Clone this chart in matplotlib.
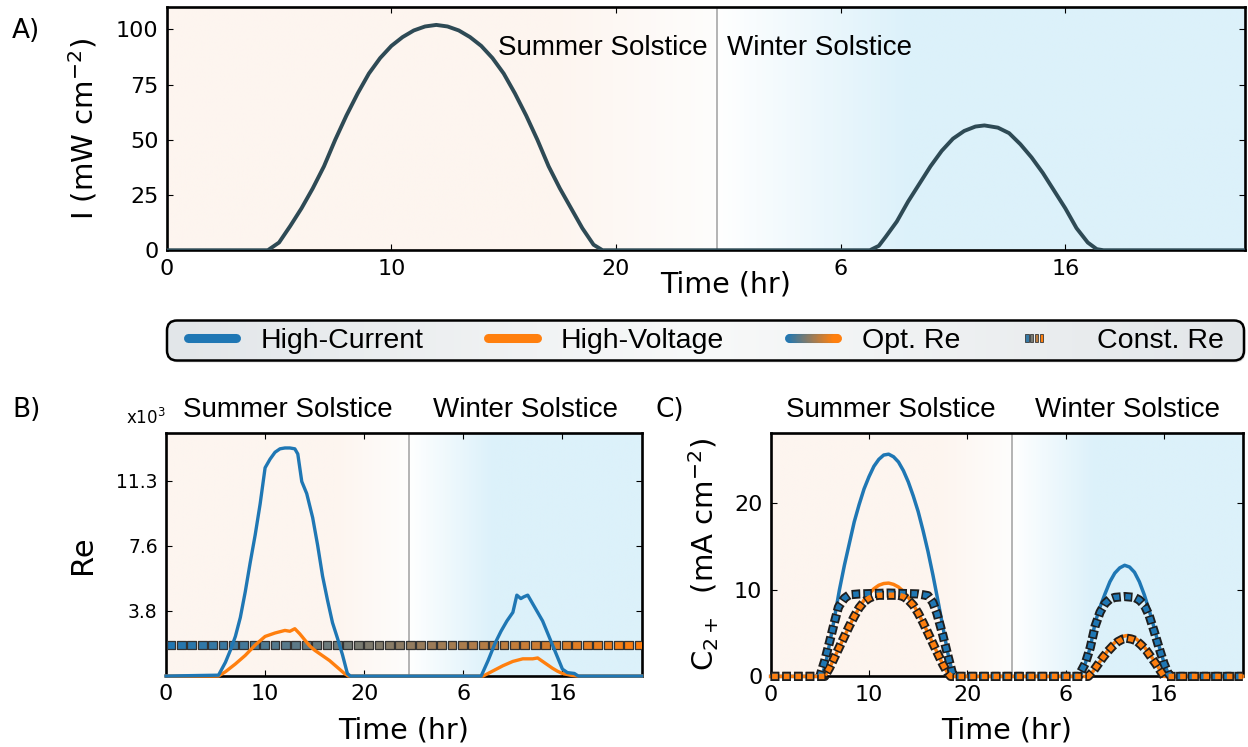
import numpy as np
import matplotlib
matplotlib.use("Agg")
import matplotlib.pyplot as plt
from matplotlib.collections import LineCollection
from matplotlib.colors import LinearSegmentedColormap
from matplotlib.legend_handler import HandlerBase
from matplotlib.lines import Line2D
from matplotlib.patches import FancyBboxPatch, Rectangle
from matplotlib.transforms import blended_transform_factory

plt.rcParams["font.family"] = "DejaVu Sans"
plt.rcParams["mathtext.default"] = "regular"
plt.rcParams["lines.scale_dashes"] = False

BLUE = "#1f77b4"
ORANGE = "#ff7f0e"
SUN = "#2e4a55"
PEACH = "#fdf5ef"
SKY = "#dcf1fa"
LABEL_FONT = "Liberation Sans"

# time axis: summer solstice day 0-24 h, winter solstice day 24-48 h
t_max = 48
day_split = 24.5
hour_ticks = [0, 10, 20, 30, 40]
hour_labels = ["0", "10", "20", "6", "16"]

# A) irradiance, mW cm-2
irr_t = [0, 4.5, 5, 5.5, 6, 6.5, 7, 7.5, 8, 8.5, 9, 9.5, 10, 10.5, 11, 11.5, 12,
         12.5, 13, 13.5, 14, 14.5, 15, 15.5, 16, 16.5, 17, 17.5, 18, 18.5, 19, 19.4,
         31.3, 31.7, 32, 32.5, 33, 33.5, 34, 34.5, 35, 35.5, 36, 36.4, 37, 37.5, 38,
         38.5, 39, 39.5, 40, 40.5, 41, 41.4, 41.7, 48]
irr_v = [0, 0, 3.5, 11, 19, 28, 38, 50, 61, 71, 80, 87, 92.5, 96.5, 99.5, 101.3, 102,
         101.3, 99.5, 96.5, 92.5, 87, 80, 71, 61, 50, 38, 28, 19, 10, 2.5, 0,
         0, 2, 6, 13, 22, 30, 38, 45, 50.5, 54, 56, 56.5, 55.5, 53, 48,
         42, 35, 27, 19, 10, 3.5, 0.5, 0, 0]

# B) Reynolds number (x10^3)
re_hc_t = [0, 5.3, 6, 6.5, 7, 7.5, 8, 8.5, 9, 9.5, 10, 10.5, 11, 11.5, 12, 12.5, 13,
           13.3, 13.7, 14.2, 14.8, 15.3, 15.8, 16.3, 16.8, 17.3, 17.8, 18.3, 18.6,
           31.8, 32.5, 33.2, 33.8, 34.4, 35.0, 35.4, 35.8, 36.1, 36.5, 37, 37.5, 38,
           38.5, 39, 39.5, 40, 40.5, 41.2, 41.6, 48]
re_hc_v = [0, 0.05, 0.8, 1.5, 2.3, 3.4, 4.9, 6.6, 8.2, 10.0, 12.1, 12.6, 13.0, 13.2,
           13.25, 13.25, 13.2, 12.9, 11.3, 10.6, 9.2, 7.6, 5.8, 4.4, 3.1, 2.2, 1.25,
           0.15, 0, 0, 0.9, 1.9, 2.6, 3.2, 3.7, 4.7, 4.5, 4.6, 4.7, 4.2, 3.7, 3.2,
           2.5, 1.8, 1.1, 0.4, 0.2, 0.15, 0, 0]
re_hv_t = [0, 5.3, 6, 7, 8, 9, 10, 11, 12, 12.5, 13, 13.5, 14, 14.5, 15, 15.5, 16,
           16.5, 17, 17.5, 18, 18.4, 32, 33, 34, 35, 36, 36.5, 37, 37.5, 38, 38.5,
           39, 39.5, 40, 40.8, 41.5, 48]
re_hv_v = [0, 0, 0.25, 0.7, 1.2, 1.8, 2.3, 2.5, 2.65, 2.6, 2.75, 2.45, 2.1, 1.75,
           1.5, 1.3, 1.1, 0.9, 0.65, 0.4, 0.15, 0, 0, 0.3, 0.6, 0.85, 1.0, 1.0, 1.0,
           1.05, 0.85, 0.65, 0.45, 0.28, 0.15, 0.05, 0, 0]
re_const = 1.8
re_ticks = [3.78, 7.56, 11.34]
re_labels = ["3.8", "7.6", "11.3"]

# C) C2+ partial current density, mA cm-2
c_hc_t = [0, 5.2, 5.6, 6, 6.5, 7, 7.5, 8, 8.5, 9, 9.5, 10, 10.5, 11, 11.5, 12, 12.5,
          13, 13.5, 14, 14.5, 15, 15.5, 16, 16.5, 17, 17.5, 18, 18.4, 18.7,
          31.5, 32, 32.5, 33, 33.5, 34, 34.5, 35, 35.5, 36, 36.5, 37, 37.5, 38, 38.5,
          39, 39.5, 40, 40.4, 40.7, 48]
c_hc_v = [0, 0, 1.5, 3.8, 6.8, 10, 12.8, 15.3, 17.8, 19.8, 21.6, 23.0, 24.2, 25.0,
          25.5, 25.6, 25.3, 24.7, 23.7, 22.4, 20.8, 19.0, 16.8, 14.4, 11.7, 8.8, 5.8,
          2.8, 0.8, 0, 0, 1.5, 3.3, 6.2, 8.0, 9.5, 10.9, 11.9, 12.5, 12.8, 12.6, 12.0,
          10.9, 9.4, 7.6, 5.6, 3.5, 1.6, 0.4, 0, 0]
c_hv_t = [0, 5.5, 6, 6.5, 7, 7.5, 8, 8.5, 9, 9.5, 10, 10.5, 11, 11.5, 12, 12.5, 13,
          13.5, 14, 14.5, 15, 15.5, 16, 16.5, 17, 17.5, 18, 18.3,
          32.3, 32.8, 33.3, 33.8, 34.3, 34.8, 35.3, 35.8, 36.2, 36.7, 37.2, 37.7,
          38.2, 38.7, 39.2, 39.6, 40, 48]
c_hv_v = [0, 0, 1.0, 2.2, 3.4, 4.6, 5.8, 6.9, 7.9, 8.8, 9.5, 10.1, 10.5, 10.7, 10.75,
          10.6, 10.3, 9.8, 9.1, 8.3, 7.3, 6.2, 5.0, 3.8, 2.6, 1.4, 0.4, 0,
          0, 0.6, 1.4, 2.2, 3.0, 3.7, 4.2, 4.6, 4.7, 4.6, 4.3, 3.8,
          3.1, 2.3, 1.5, 0.7, 0, 0]
c_hc_const_t = [0, 5.0, 5.5, 6, 6.5, 6.9, 7.5, 8, 9, 12, 15, 16, 16.5, 16.9, 17.5,
                18, 18.5, 18.7, 31.3, 32, 32.5, 33, 33.5, 34, 34.5, 35, 36, 37, 37.5,
                38, 38.5, 39, 39.5, 40, 40.4, 40.7, 48]
c_hc_const_v = [0, 0, 1.8, 4.0, 6.3, 8.0, 9.0, 9.4, 9.5, 9.6, 9.5, 9.3, 8.5, 7.3, 4.8,
                2.5, 0.3, 0, 0, 1.5, 3.3, 5.8, 7.4, 8.4, 8.9, 9.1, 9.2, 9.1, 8.8,
                8.2, 7.0, 5.2, 3.3, 1.5, 0.4, 0, 0]
c_hv_const_t = [0, 5.5, 6, 6.5, 7, 7.5, 8, 8.5, 9, 9.5, 10, 10.5, 11, 13, 13.5, 14,
                14.5, 15, 15.5, 16, 16.5, 17, 17.5, 18, 18.3,
                32.3, 32.8, 33.3, 33.8, 34.3, 34.8, 35.3, 35.8, 36.2, 36.7, 37.2,
                37.7, 38.2, 38.7, 39.2, 39.6, 40, 48]
c_hv_const_v = [0, 0, 1.0, 2.2, 3.4, 4.6, 5.8, 6.9, 7.9, 8.6, 9.0, 9.25, 9.35, 9.35,
                9.2, 8.8, 8.2, 7.3, 6.2, 5.0, 3.8, 2.6, 1.4, 0.4, 0,
                0, 0.6, 1.4, 2.2, 2.9, 3.5, 4.0, 4.3, 4.4, 4.3, 4.1,
                3.6, 3.0, 2.2, 1.4, 0.7, 0, 0]

legend_labels = ["High-Current", "High-Voltage", "Opt. Re", "Const. Re"]

re_cmap = LinearSegmentedColormap.from_list("re", [BLUE, ORANGE])
bg_cmap = LinearSegmentedColormap.from_list(
    "bg", [(0, PEACH), (17 / 48, PEACH), (24.45 / 48, "#fefdfc"),
           (24.5 / 48, "white"), (33 / 48, SKY), (1, SKY)])


def season_background(ax, ymax):
    ax.imshow(np.linspace(0, 1, 800)[None, :], cmap=bg_cmap, aspect="auto",
              extent=(0, t_max, 0, ymax), zorder=0, interpolation="bilinear")
    ax.axvline(day_split, color="#b3b3b3", lw=1.4, zorder=1)


def style_axes(ax, ymax):
    ax.set_xlim(0, t_max)
    ax.set_ylim(0, ymax)
    ax.set_xticks(hour_ticks, hour_labels)
    ax.tick_params(direction="in", length=4.5, width=0.8, top=True, right=True,
                   labelsize=16, pad=6)
    for s in ax.spines.values():
        s.set_linewidth(1.9)
        s.set_zorder(2.5)


def const_line(ax, t, v, color):
    ax.plot(t, v, color="#1e1e1e", lw=6.6, ls=(0, (6.2, 2.2)), zorder=4, clip_on=False)
    ax.plot(t, v, color=color, lw=3.9, ls=(7.3, (4.0, 4.4)), zorder=4.1, clip_on=False)


fig = plt.figure(figsize=(12.48, 7.47), dpi=100)
ax_a = fig.add_axes([0.1336, 0.665, 0.8640, 0.3253])
ax_b = fig.add_axes([0.1330, 0.0950, 0.3812, 0.3249])
ax_c = fig.add_axes([0.6175, 0.0945, 0.3782, 0.3254])

# ---- A
season_background(ax_a, 110)
ax_a.plot(irr_t, irr_v, color=SUN, lw=2.8, zorder=3)
style_axes(ax_a, 110)
ax_a.set_yticks([0, 25, 50, 75, 100])
ax_a.set_ylabel("I (mW cm$^{-2}$)", fontsize=21)
ax_a.yaxis.set_label_coords(-0.062, 0.5)
ax_a.set_xlabel("Time (hr)", fontsize=20.5)
ax_a.xaxis.set_label_coords(0.5187, -0.085)
ax_a.text(24.1, 91.5, "Summer Solstice", ha="right", va="center", fontsize=20,
          family=LABEL_FONT)
ax_a.text(24.95, 91.5, "Winter Solstice", ha="left", va="center", fontsize=20,
          family=LABEL_FONT)

# ---- B
season_background(ax_b, 14.1)
sq_t = np.arange(0.5, t_max, 1.05)
ax_b.scatter(sq_t, np.full_like(sq_t, re_const), marker="s", s=40,
             c=re_cmap(sq_t / t_max), edgecolors="#333333", linewidths=0.9, zorder=3)
ax_b.plot(re_hv_t, re_hv_v, color=ORANGE, lw=2.4, zorder=4, clip_on=False)
ax_b.plot(re_hc_t, re_hc_v, color=BLUE, lw=2.4, zorder=4.1, clip_on=False)
style_axes(ax_b, 14.1)
ax_b.set_yticks(re_ticks, re_labels)
ax_b.tick_params(axis="y", labelsize=13.5)
ax_b.set_ylabel("Re", fontsize=22)
ax_b.yaxis.set_label_coords(-0.146, 0.5)
ax_b.set_xlabel("Time (hr)", fontsize=20.5)
ax_b.xaxis.set_label_coords(0.5, -0.165)
ax_b.text(0.0, 1.022, "x10$^3$", transform=ax_b.transAxes, ha="right", va="bottom",
          fontsize=12)

# ---- C
season_background(ax_c, 28)
ax_c.plot(c_hc_t, c_hc_v, color=BLUE, lw=2.5, zorder=3, clip_on=False)
ax_c.plot(c_hv_t, c_hv_v, color=ORANGE, lw=2.5, zorder=3.1, clip_on=False)
const_line(ax_c, c_hc_const_t, c_hc_const_v, BLUE)
const_line(ax_c, c_hv_const_t, c_hv_const_v, ORANGE)
style_axes(ax_c, 28)
ax_c.set_yticks([0, 10, 20])
ax_c.set_ylabel("C$_{2+}$  (mA cm$^{-2}$)", fontsize=21)
ax_c.yaxis.set_label_coords(-0.105, 0.5)
ax_c.set_xlabel("Time (hr)", fontsize=20.5)
ax_c.xaxis.set_label_coords(0.5, -0.165)

for ax in (ax_b, ax_c):
    tr = blended_transform_factory(ax.transData, ax.transAxes)
    ax.text(12.25, 1.096, "Summer Solstice", transform=tr, ha="center", va="center",
            fontsize=20, family=LABEL_FONT)
    ax.text(36.25, 1.096, "Winter Solstice", transform=tr, ha="center", va="center",
            fontsize=20, family=LABEL_FONT)

fig.text(0.0096, 0.958, "A)", fontsize=19, va="center")
fig.text(0.0096, 0.451, "B)", fontsize=19, va="center")
fig.text(0.525, 0.451, "C)", fontsize=19, va="center")


# ---- legend
class GradientHandler(HandlerBase):
    def create_artists(self, legend, orig_handle, xdescent, ydescent, width, height,
                       fontsize, trans):
        x = np.linspace(-xdescent, width - xdescent, 40)
        y = np.full_like(x, height / 2 - ydescent)
        pts = np.column_stack([x, y]).reshape(-1, 1, 2)
        segs = np.concatenate([pts[:-1], pts[1:]], axis=1)
        lc = LineCollection(segs, colors=re_cmap(np.linspace(0, 1, len(segs))),
                            linewidths=6.5, capstyle="round", transform=trans)
        return [lc]


class SquaresHandler(HandlerBase):
    def create_artists(self, legend, orig_handle, xdescent, ydescent, width, height,
                       fontsize, trans):
        yc = height / 2 - ydescent
        arts = []
        for i, f in enumerate([0.1, 0.4, 0.7, 1.0]):
            x0 = -xdescent + 0.5 + i * 3.4
            arts.append(Rectangle((x0, yc - 3.2), 2.4, 6.4, facecolor=re_cmap(f),
                                  edgecolor="#3a3a3a", linewidth=0.6, transform=trans))
        return arts


ax_leg = fig.add_axes([165 / 1248, (747 - 363) / 747, 1082 / 1248, 44 / 747])
ax_leg.set_xlim(0, 1082)
ax_leg.set_ylim(0, 44)
ax_leg.axis("off")
shadow = FancyBboxPatch((3.5, 0.5), 1077, 40, boxstyle="round,pad=0,rounding_size=10",
                        fc="#d0d0d0", ec="none", alpha=0.6, clip_on=False, zorder=0)
ax_leg.add_patch(shadow)
box = FancyBboxPatch((2, 2.5), 1077, 40, boxstyle="round,pad=0,rounding_size=10",
                     fc="none", ec="black", lw=1.8, clip_on=False, zorder=3)
ax_leg.add_patch(box)
leg_bg = LinearSegmentedColormap.from_list("lg", [(0, "#e2e6e9"), (0.5, "#f8f9f9"),
                                                  (1, "#e2e6e9")])
im = ax_leg.imshow(np.linspace(0, 1, 300)[None, :], cmap=leg_bg, aspect="auto",
                   extent=(2, 1079, 2.5, 42.5), zorder=1)
im.set_clip_path(box)
ax_leg.set_xlim(0, 1082)
ax_leg.set_ylim(0, 44)

handles = [Line2D([], [], color=BLUE, lw=6.5, solid_capstyle="round"),
           Line2D([], [], color=ORANGE, lw=6.5, solid_capstyle="round"),
           Line2D([], []),
           Line2D([], [])]
handler_map = {handles[2]: GradientHandler(), handles[3]: SquaresHandler()}
leg = ax_leg.legend(handles, legend_labels, handler_map=handler_map, loc="center",
                    ncol=4, mode="expand", bbox_to_anchor=(0, 0, 1, 1), frameon=False,
                    prop={"family": LABEL_FONT, "size": 20.5}, handlelength=1.7,
                    handletextpad=0.85, borderpad=0.8, borderaxespad=0)
leg.set_zorder(4)

fig.savefig("out.png", dpi=100)
